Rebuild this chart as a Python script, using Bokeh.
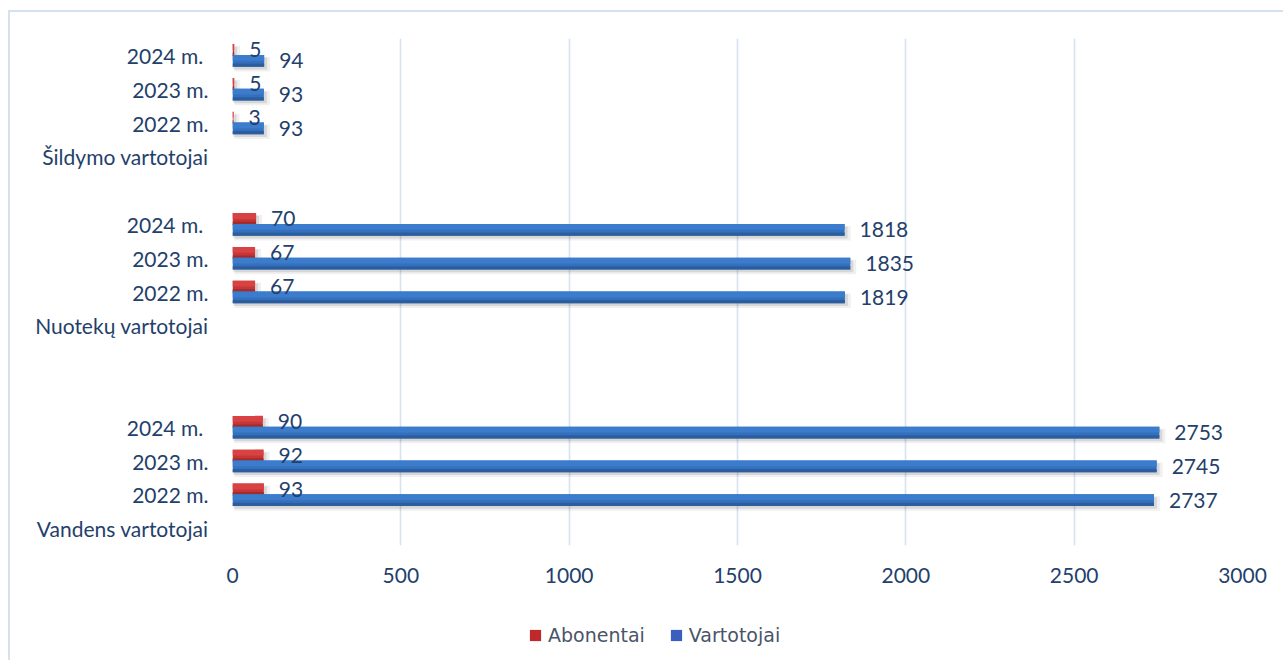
from bokeh.plotting import figure
from bokeh.layouts import column
from bokeh.models import (ColumnDataSource, FixedTicker, Legend, LegendItem,
                          Range1d, LabelSet)
from bokeh.embed import file_html
from bokeh.resources import INLINE
from bokeh.core.properties import value

# ---- data (rows from bottom to top, "" = empty spacer row) ----
row_labels = ["Vandens vartotojai", "2022 m.", "2023 m.", "2024 m. ", "", "",
              "Nuotekų vartotojai", "2022 m.", "2023 m.", "2024 m. ", "",
              "Šildymo vartotojai", "2022 m.", "2023 m.", "2024 m. "]
abonentai = [None, 93, 92, 90, None, None, None, 67, 67, 70, None, None, 3, 5, 5]
vartotojai = [None, 2737, 2745, 2753, None, None, None, 1819, 1835, 1818, None,
              None, 93, 93, 94]
x_ticks = [0, 500, 1000, 1500, 2000, 2500, 3000]
series_names = ["Abonentai", "Vartotojai"]

TXT = "#243F6B"
FONT = "Lato"
FS = "21px"
RED, BLUE = "#C73636", "#3470BE"
BORDER = "2px solid #D5E1EF"

pos = [i for i, v in enumerate(vartotojai) if v is not None]
ab = [abonentai[i] for i in pos]
va = [vartotojai[i] for i in pos]

H = 0.35
OFF = 0.16
ab_y = [p + OFF for p in pos]
va_y = [p - OFF for p in pos]

src_ab = ColumnDataSource(dict(y=ab_y, v=ab, lbl=[str(a) for a in ab]))
src_va = ColumnDataSource(dict(y=va_y, v=va, lbl=[str(a) for a in va]))

p = figure(width=1275, height=600, output_backend="svg", toolbar_location=None,
           x_range=Range1d(0, 3000), y_range=Range1d(-0.5, len(row_labels) - 0.5),
           min_border_left=222, min_border_right=43, min_border_top=26,
           min_border_bottom=67)
p.margin = (10, 0, 0, 8)
p.styles = {"border-left": BORDER, "border-top": BORDER}
p.outline_line_color = None
p.background_fill_color = "white"
p.border_fill_color = "white"

# grid
p.ygrid.grid_line_color = None
p.xgrid.ticker = FixedTicker(ticks=x_ticks)
p.xgrid.grid_line_color = "#D6E2F0"
p.xgrid.grid_line_width = 1.6

# axes
p.xaxis.ticker = FixedTicker(ticks=x_ticks)
p.xaxis.axis_line_color = None
p.xaxis.major_tick_line_color = None
p.xaxis.major_tick_out = 0
p.xaxis.major_tick_in = 0
p.xaxis.minor_tick_line_color = None
p.xaxis.major_label_standoff = 22
p.xaxis.major_label_text_font = FONT
p.xaxis.major_label_text_font_size = FS
p.xaxis.major_label_text_color = TXT

label_pos = [i for i, l in enumerate(row_labels) if l]
p.yaxis.ticker = FixedTicker(ticks=label_pos)
p.yaxis.major_label_overrides = {i: row_labels[i] for i in label_pos}
p.yaxis.axis_line_color = None
p.yaxis.major_tick_line_color = None
p.yaxis.major_tick_out = 0
p.yaxis.major_tick_in = 0
p.yaxis.minor_tick_line_color = None
p.yaxis.major_label_standoff = 24
p.yaxis.major_label_text_font = FONT
p.yaxis.major_label_text_font_size = FS
p.yaxis.major_label_text_color = TXT

# shadows (px -> data units)
u = 3000 / 1008.0
for src, yy in ((src_ab, ab_y), (src_va, va_y)):
    d = src.data
    p.hbar(y=[y - 0.1 for y in yy], left=[2 * u] * len(yy),
           right=[v + 6 * u for v in d["v"]], height=H + 0.08,
           fill_color="black", fill_alpha=0.06, line_color=None)
    p.hbar(y=[y - 0.08 for y in yy], left=[1 * u] * len(yy),
           right=[v + 3 * u for v in d["v"]], height=H,
           fill_color="black", fill_alpha=0.10, line_color=None)

# bars (simulated gradient)
p.hbar(y="y", left=0, right="v", height=H, source=src_ab,
       fill_color=RED, line_color=None)
p.hbar(y=[y + H * 0.25 for y in ab_y], left=0, right=ab, height=H * 0.5,
       fill_color="#D84242", line_color=None)
p.hbar(y=[y - H * 0.36 for y in ab_y], left=0, right=ab, height=H * 0.28,
       fill_color="#A52A2A", line_color=None)

p.hbar(y="y", left=0, right="v", height=H, source=src_va,
       fill_color=BLUE, line_color=None)
p.hbar(y=[y + H * 0.25 for y in va_y], left=0, right=va, height=H * 0.5,
       fill_color="#3B7CCC", line_color=None)
p.hbar(y=[y - H * 0.36 for y in va_y], left=0, right=va, height=H * 0.28,
       fill_color="#2C5E9E", line_color=None)

# data labels
for src in (src_ab, src_va):
    p.add_layout(LabelSet(x="v", y="y", text="lbl", source=src, x_offset=15,
                          text_align="left", text_baseline="middle",
                          text_font=value(FONT), text_font_size=FS,
                          text_color=TXT))

# ---- legend strip ----
lg = figure(width=1275, height=50, output_backend="svg", toolbar_location=None,
            x_range=Range1d(0, 1), y_range=Range1d(0, 1),
            min_border=0, min_border_left=0, min_border_right=0,
            min_border_top=0, min_border_bottom=0)
lg.margin = (0, 0, 0, 8)
lg.styles = {"border-left": BORDER}
lg.axis.visible = False
lg.grid.visible = False
lg.outline_line_color = None
lg.border_fill_color = "white"
# legend proxies (zero-width, so nothing is drawn in the strip itself)
r1 = lg.hbar(y=[0.5], left=[0], right=[0], height=0.0,
             fill_color="#C0292C", line_color=None)
r2 = lg.hbar(y=[0.5], left=[0], right=[0], height=0.0,
             fill_color="#3A5FC0", line_color=None)
legend = Legend(items=[LegendItem(label=series_names[0], renderers=[r1]),
                       LegendItem(label=series_names[1], renderers=[r2])],
                orientation="horizontal", location=(296, 14),
                glyph_width=14, glyph_height=14, label_standoff=6, spacing=24,
                padding=4, margin=0, border_line_color=None,
                background_fill_alpha=0,
                label_text_font="DejaVu Sans", label_text_font_size="19px",
                label_text_color="#4A5468")
lg.add_layout(legend, "center")

layout = column(p, lg, spacing=0)
open("out.html", "w").write(file_html(layout, INLINE))
